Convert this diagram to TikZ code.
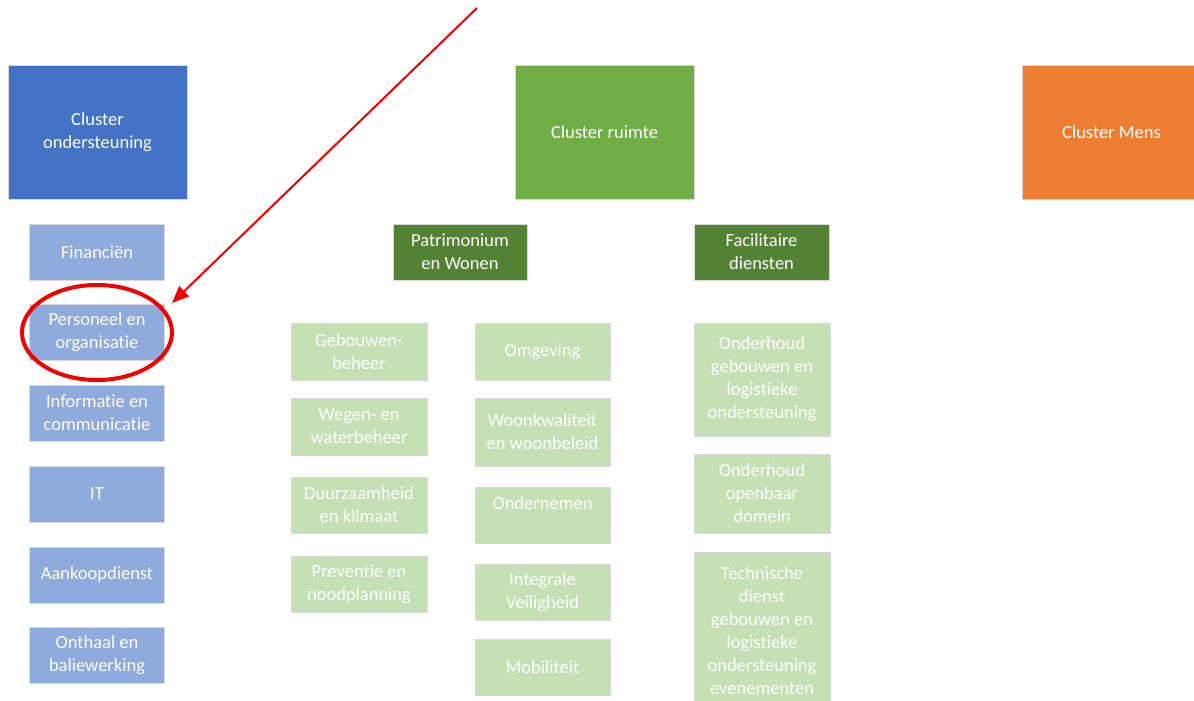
\documentclass[tikz,border=0pt]{standalone}
\usepackage{fontspec}
\setmainfont{Carlito}[Ligatures=NoCommon]
\usetikzlibrary{shapes.geometric,arrows.meta}
\definecolor{cblue}{HTML}{4472C4}
\definecolor{cgreen}{HTML}{70AD47}
\definecolor{corange}{HTML}{ED7D31}
\definecolor{lblue}{HTML}{8FAADC}
\definecolor{dgreen}{HTML}{548235}
\definecolor{lgreen}{HTML}{C5E0B4}
\definecolor{edgegray}{HTML}{D9D9D9}
\definecolor{redmark}{HTML}{F00000}
\tikzset{
  box/.style={rectangle, inner sep=0pt, align=center, text=white, draw=edgegray, line width=0.8pt,
    font=\fontsize{18.5}{23}\selectfont},
  cluster/.style={box, minimum width=179pt, minimum height=134pt},
  bsub/.style={box, fill=lblue, minimum width=135pt, minimum height=56pt},
  ghead/.style={box, fill=dgreen, minimum width=134pt, minimum height=56pt},
  gsub/.style={box, fill=lgreen, minimum width=135pt, minimum height=56pt},
}
\begin{document}
\begin{tikzpicture}[x=1pt,y=-1pt]
\useasboundingbox (0,0) rectangle (1194,701);
\clip (0,0) rectangle (1194,701);
% clusters
\node[cluster, fill=cblue] (co) at (97.5,132) {Cluster\\ondersteuning};
\node[cluster, fill=cgreen] (cr) at (604.5,132) {Cluster ruimte};
\node[cluster, fill=corange] (cm) at (1111.5,132) {Cluster Mens};
% left column
\node[bsub] (fin) at (97,252) {Financiën};
\node[bsub] (po) at (97,332.5) {Personeel en\\organisatie};
\node[bsub] (ic) at (97,413) {Informatie en\\communicatie};
\node[bsub] (it) at (97,494) {IT};
\node[bsub] (ak) at (97,575) {Aankoopdienst};
\node[bsub] (ob) at (97,655) {Onthaal en\\baliewerking};
% heads
\node[ghead] (pw) at (460,252) {Patrimonium\\en Wonen};
\node[ghead, minimum width=135pt] (fd) at (761.5,252) {Facilitaire\\diensten};
% column 1
\node[gsub, minimum width=136pt, minimum height=57pt] (gb) at (359,351.5) {Gebouwen-\\beheer};
\node[gsub, minimum width=136pt, minimum height=57pt] (ww) at (359,426.5) {Wegen- en\\waterbeheer};
\node[gsub, minimum width=136pt] (dk) at (359,505) {Duurzaamheid\\en klimaat};
\node[gsub, minimum width=136pt] (pn) at (359,584) {Preventie en\\noodplanning};
% column 2
\node[gsub, minimum height=57pt] (om) at (542.5,351.5) {Omgeving};
\node[gsub, minimum height=68pt] (wk) at (542.5,432) {Woonkwaliteit\\en woonbeleid};
\node[gsub] (on) at (542.5,515) {Ondernemen\\\mbox{}};
\node[gsub] (iv) at (542.5,592) {Integrale\\Veiligheid};
\node[gsub] (mo) at (542.5,667) {Mobiliteit};
% column 3
\node[gsub, minimum width=136pt, minimum height=113pt] (og) at (762,379.5) {Onderhoud\\gebouwen en\\logistieke\\ondersteuning};
\node[gsub, minimum width=136pt, minimum height=79pt] (oo) at (762,493.5) {Onderhoud\\openbaar\\domein};
\node[gsub, minimum width=136pt, minimum height=158pt] (td) at (762,631) {Technische\\dienst\\gebouwen en\\logistieke\\ondersteuning\\evenementen};
% highlight
\node[ellipse, draw=redmark, line width=4pt, minimum width=150pt, minimum height=95pt, inner sep=0pt] (circ) at (97,332.5) {};
\coordinate (src) at (477,8);
\coordinate (tip) at (172,303);
\draw[redmark, line width=2pt, -{Triangle[length=17pt,width=14pt]}] (src) -- (tip);
\end{tikzpicture}
\end{document}
